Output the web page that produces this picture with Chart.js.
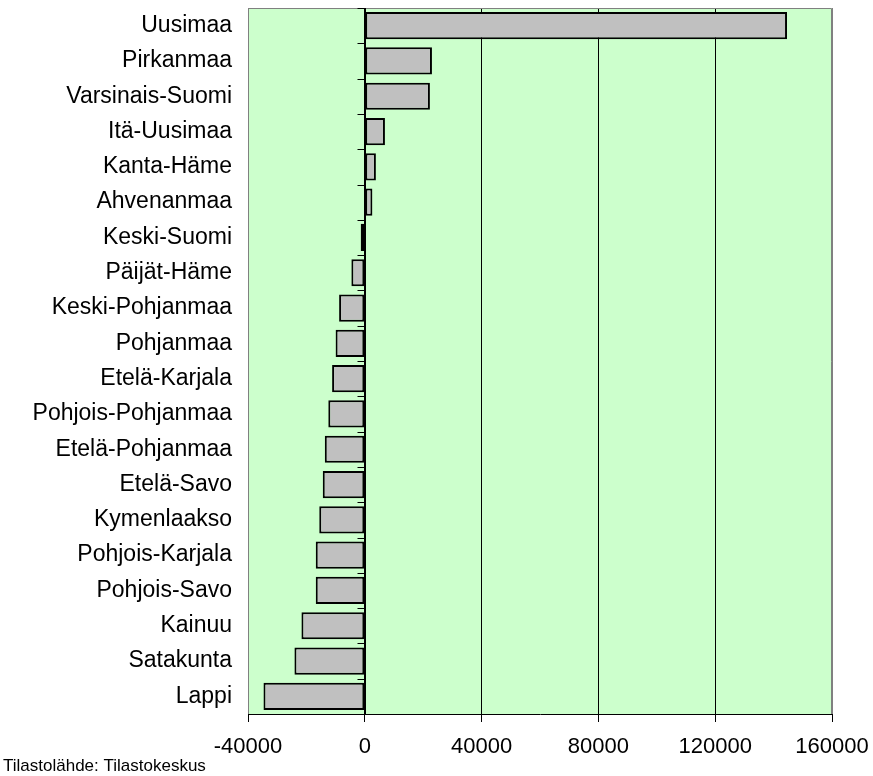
<!DOCTYPE html>
<html>
<head>
<meta charset="utf-8">
<script src="https://cdn.jsdelivr.net/npm/chart.js@4.4.1/dist/chart.umd.min.js"></script>
<style>
  body { margin: 0; background: #fff; }
  canvas { display: block; }
</style>
</head>
<body>
<canvas id="chart" width="873" height="776"></canvas>
<script>
// Väestönmuutos maakunnittain
const regions = [
  'Uusimaa', 'Pirkanmaa', 'Varsinais-Suomi', 'Itä-Uusimaa', 'Kanta-Häme',
  'Ahvenanmaa', 'Keski-Suomi', 'Päijät-Häme', 'Keski-Pohjanmaa', 'Pohjanmaa',
  'Etelä-Karjala', 'Pohjois-Pohjanmaa', 'Etelä-Pohjanmaa', 'Etelä-Savo', 'Kymenlaakso',
  'Pohjois-Karjala', 'Pohjois-Savo', 'Kainuu', 'Satakunta', 'Lappi'
];
const change = [
  144600, 23000, 22300, 6900, 3800,
  2600, -1400, -4600, -8800, -10000,
  -11200, -12500, -13700, -14400, -15600,
  -16800, -16800, -21700, -24100, -34700
];
const xMin = -40000;
const xMax = 160000;
const xStep = 40000;
const source = 'Tilastolähde: Tilastokeskus';

const FONT = '"Liberation Sans", Arial, sans-serif';

// plot background, frame, zero axis with category ticks, source line
const decor = {
  id: 'decor',
  beforeDraw(chart) {
    const { ctx, chartArea: a } = chart;
    ctx.save();
    ctx.fillStyle = '#ccffcc';
    ctx.fillRect(a.left, a.top, a.right - a.left, a.bottom - a.top);
    ctx.restore();
  },
  afterDatasetsDraw(chart) {
    const { ctx, chartArea: a, scales } = chart;
    const x0 = Math.round(scales.x.getPixelForValue(0)) + 0.5;
    ctx.save();
    ctx.strokeStyle = '#808080';
    ctx.lineWidth = 1;
    ctx.beginPath();
    ctx.moveTo(a.left + 0.5, a.bottom);
    ctx.lineTo(a.left + 0.5, a.top + 0.5);
    ctx.lineTo(a.right - 0.5, a.top + 0.5);
    ctx.lineTo(a.right - 0.5, a.bottom);
    ctx.stroke();

    ctx.strokeStyle = '#000';
    ctx.beginPath();
    ctx.moveTo(x0, a.top);
    ctx.lineTo(x0, a.bottom);
    const n = regions.length;
    for (let i = 0; i <= n; i++) {
      const y = Math.round(scales.y.getPixelForValue(i - 0.5)) + 0.5;
      ctx.moveTo(x0 - 8, y);
      ctx.lineTo(x0, y);
    }
    ctx.stroke();

    ctx.fillStyle = '#000';
    ctx.font = '17px ' + FONT;
    ctx.textAlign = 'left';
    ctx.textBaseline = 'alphabetic';
    ctx.fillText(source, 3, 771);
    ctx.restore();
  }
};

new Chart(document.getElementById('chart'), {
  type: 'bar',
  data: {
    labels: regions,
    datasets: [{
      data: change,
      backgroundColor: '#c0c0c0',
      borderColor: '#000',
      borderWidth: 2,
      borderSkipped: false,
      barPercentage: 0.77,
      categoryPercentage: 1
    }]
  },
  options: {
    indexAxis: 'y',
    responsive: false,
    animation: false,
    layout: { padding: { top: 8, right: 41, left: 0, bottom: 0 } },
    plugins: {
      legend: { display: false },
      tooltip: { enabled: false }
    },
    scales: {
      x: {
        min: xMin,
        max: xMax,
        afterFit(scale) {
          scale.height = 62;
          scale.paddingLeft = 0;
          scale.paddingRight = 0;
        },
        ticks: {
          stepSize: xStep,
          color: '#000',
          font: { family: FONT, size: 22 },
          padding: 12,
          maxRotation: 0,
          callback: v => String(v)
        },
        grid: {
          color: c => (c.tick && (c.tick.value === xMin || c.tick.value === xMax)) ? '#808080' : '#000',
          tickColor: '#000',
          tickLength: 8,
          lineWidth: 1
        },
        border: { color: '#000', width: 1 }
      },
      y: {
        afterFit(scale) {
          scale.width = 248;
          scale.paddingTop = 0;
          scale.paddingBottom = 0;
        },
        ticks: {
          color: '#000',
          font: { family: FONT, size: 23 },
          padding: 16,
          autoSkip: false
        },
        grid: { display: false, drawTicks: false },
        border: { display: false }
      }
    }
  },
  plugins: [decor]
});
</script>
</body>
</html>
